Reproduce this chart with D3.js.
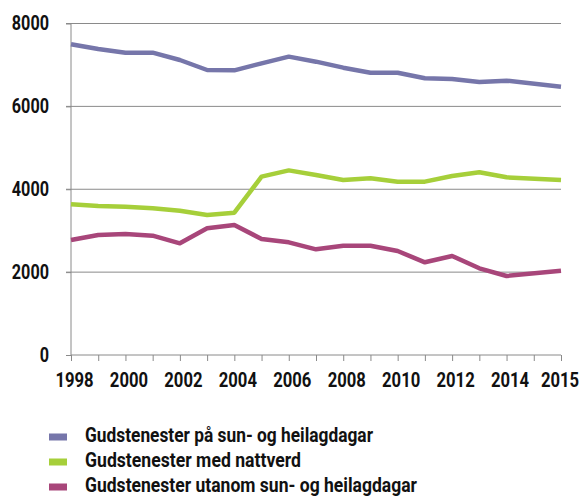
<!DOCTYPE html>
<html lang="nn">
<head>
  <meta charset="UTF-8">
  <title>Gudstenester 1998-2015</title>
  <script src="https://d3js.org/d3.v7.min.js"></script>
  <style>
    body {
      margin: 0;
      background: #fff;
    }
    svg text {
      font-family: Roboto, "Liberation Sans", sans-serif;
      font-weight: bold;
      fill: #111;
    }
    .axis path, .axis line {
      stroke: #8a8a8a;
    }
    .grid line {
      stroke: #8a8a8a;
      stroke-width: 1;
    }
    .series {
      fill: none;
      stroke-width: 4.5;
      stroke-linejoin: round;
    }
  </style>
</head>
<body>
  <svg width="583" height="497"></svg>

  <script>
    // categories on the x axis (one slot without a value before 2015)
    const years = ["1998", "1999", "2000", "2001", "2002", "2003", "2004", "2005", "2006",
                   "2007", "2008", "2009", "2010", "2011", "2012", "2013", "2014", "", "2015"];
    const yearLabels = ["1998", "2000", "2002", "2004", "2006", "2008", "2010", "2012", "2014", "2015"];
    const yTicks = [0, 2000, 4000, 6000, 8000];

    const sunHeilag = [7500, 7385, 7296, 7296, 7119, 6878, 6870, 7039, 7200,
                       7079, 6934, 6813, 6813, 6677, 6660, 6588, 6620, null, 6475];
    const nattverd = [3637, 3596, 3580, 3540, 3483, 3379, 3434, 4304, 4455,
                      4344, 4223, 4264, 4183, 4183, 4320, 4409, 4288, null, 4223];
    const utanom = [2775, 2896, 2920, 2880, 2695, 3057, 3137, 2800, 2719,
                    2550, 2638, 2638, 2510, 2237, 2390, 2092, 1907, null, 2035];

    const seriesNames = ["Gudstenester på sun- og heilagdagar",
                         "Gudstenester med nattverd",
                         "Gudstenester utanom sun- og heilagdagar"];
    const seriesColors = ["#7676aa", "#a6cf3a", "#a8467a"];
    const seriesValues = [sunHeilag, nattverd, utanom];

    // condensed look: squeeze glyphs to the widths seen in the original
    const legendWidths = [288, 216, 332];
    const digitWidth = 9.3;

    const svg = d3.select("svg"),
          margin = {top: 23.5, right: 22, bottom: 142, left: 71},
          width = +svg.attr("width") - margin.left - margin.right,
          height = +svg.attr("height") - margin.top - margin.bottom;

    const g = svg.append("g")
                 .attr("transform", `translate(${margin.left},${margin.top})`);

    const x = d3.scalePoint()
                .domain(years)
                .range([0, width]);

    const y = d3.scaleLinear()
                .domain([0, 8000])
                .range([height, 0]);

    // gridlines
    g.append("g")
      .attr("class", "grid")
      .selectAll("line")
      .data(yTicks.filter(d => d > 0))
      .enter()
      .append("line")
        .attr("x1", -5)
        .attr("x2", width)
        .attr("y1", d => y(d))
        .attr("y2", d => y(d));

    // Y axis
    const yAxis = g.append("g")
      .attr("class", "axis")
      .call(d3.axisLeft(y).tickValues(yTicks).tickSize(5).tickPadding(17).tickFormat(d => d));
    yAxis.select(".domain").attr("d", `M0,${height}V0`);
    yAxis.selectAll("text")
      .style("font-size", "19.5px")
      .attr("textLength", d => String(d).length * digitWidth)
      .attr("lengthAdjust", "spacingAndGlyphs");

    // X axis
    const xAxis = g.append("g")
      .attr("class", "axis")
      .attr("transform", `translate(0,${height})`)
      .call(d3.axisBottom(x).tickSize(6).tickPadding(12)
              .tickFormat(d => yearLabels.includes(d) ? d : ""));
    xAxis.select(".domain").attr("d", `M0,0H${width}`);
    xAxis.selectAll("text")
      .filter(d => yearLabels.includes(d))
      .style("font-size", "19.5px")
      .attr("dx", d => d === "2015" ? -1.5 : 3)
      .attr("textLength", 4 * digitWidth + 1)
      .attr("lengthAdjust", "spacingAndGlyphs");

    // Lines
    const line = d3.line()
      .x(d => x(d.year))
      .y(d => y(d.value));

    seriesValues.forEach((vals, i) => {
      const pts = years.map((yr, j) => ({year: yr, value: vals[j]}))
                       .filter(d => d.value !== null);
      g.append("path")
        .datum(pts)
        .attr("class", "series")
        .attr("stroke", seriesColors[i])
        .attr("d", line);
    });

    // Legend
    const legend = svg.append("g")
      .selectAll("g")
      .data(seriesNames)
      .enter()
      .append("g")
        .attr("transform", (d, i) => `translate(49,${437 + i * 25})`);

    legend.append("rect")
      .attr("x", 0)
      .attr("y", -3.5)
      .attr("width", 18)
      .attr("height", 7)
      .attr("fill", (d, i) => seriesColors[i]);

    legend.append("text")
      .attr("x", 36)
      .attr("y", 4.7)
      .style("font-size", "20.5px")
      .attr("textLength", (d, i) => legendWidths[i])
      .attr("lengthAdjust", "spacingAndGlyphs")
      .text(d => d);
  </script>
</body>
</html>
